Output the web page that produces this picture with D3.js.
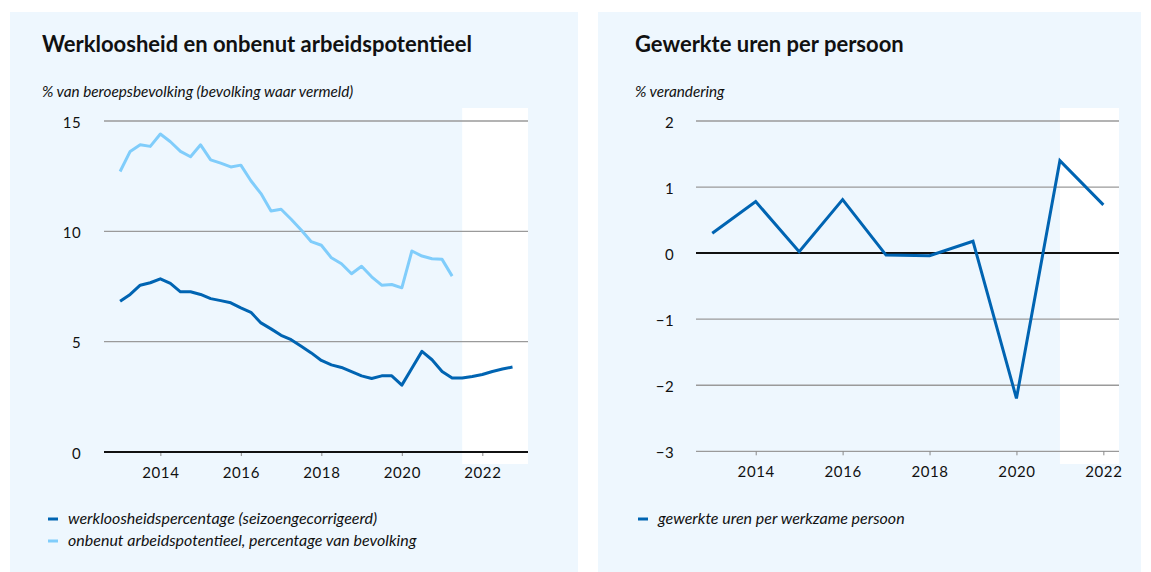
<!DOCTYPE html>
<html>
<head>
<meta charset="utf-8">
<script src="https://cdn.jsdelivr.net/npm/d3@7"></script>
<style>
  body { margin: 0; background: #fff; }
  text { font-family: Lato, "Open Sans", sans-serif; fill: #111; }
  .axis .domain { display: none; }
</style>
</head>
<body>
<div id="chart"></div>
<script>
// ---- data ----
// quarterly, starting 2013 Q1
var werkloosheid = [6.83, 7.14, 7.56, 7.67, 7.85, 7.64, 7.26, 7.26, 7.14, 6.95,
    6.86, 6.76, 6.53, 6.33, 5.85, 5.58, 5.29, 5.09, 4.79, 4.49,
    4.15, 3.95, 3.83, 3.64, 3.45, 3.33, 3.45, 3.45, 3.03, 3.80,
    4.56, 4.18, 3.65, 3.35, 3.35, 3.42, 3.51, 3.65, 3.76, 3.85];
var onbenut = [12.71, 13.62, 13.92, 13.85, 14.41, 14.06, 13.62, 13.38, 13.92, 13.24,
    13.09, 12.92, 13.0, 12.29, 11.71, 10.92, 11.0, 10.55, 10.06, 9.53,
    9.37, 8.80, 8.53, 8.08, 8.42, 7.94, 7.56, 7.59, 7.44, 9.11,
    8.88, 8.76, 8.73, 7.97];
var startYear = 2013;

// yearly
var urenYears = [2013, 2014, 2015, 2016, 2017, 2018, 2019, 2020, 2021, 2022];
var urenPerPersoon = [0.30, 0.78, 0.02, 0.81, -0.03, -0.04, 0.18, -2.20, 1.40, 0.73];

var leftYTicks = [0, 5, 10, 15];
var rightYTicks = [-3, -2, -1, 0, 1, 2];
var xTickYears = [2014, 2016, 2018, 2020, 2022];

var darkBlue = "#0064b2";
var lightBlue = "#80cdfb";
var panelColor = "#eef7fe";

var width = 1151, height = 572;

var svg = d3.select("#chart")
    .append("svg")
    .attr("width", width)
    .attr("height", height);

// panel backgrounds
svg.append("rect").attr("x", 10).attr("y", 12).attr("width", 568).attr("height", 560).attr("fill", panelColor);
svg.append("rect").attr("x", 598).attr("y", 12).attr("width", 543).attr("height", 560).attr("fill", panelColor);

function quarterDate(i) { return startYear + i / 4; }

// draws grid, band, axes for one panel
function drawFrame(g, xScale, yScale, yTicks, bandStart, xLeft, xRight, labelX, fmt) {
    // white forecast band
    g.append("rect")
        .attr("x", xScale(bandStart))
        .attr("y", 108)
        .attr("width", xRight - xScale(bandStart))
        .attr("height", 356)
        .attr("fill", "#fff");

    // gridlines
    g.selectAll(".grid")
        .data(yTicks.filter(function (d) { return d !== 0; }))
        .enter()
        .append("line")
        .attr("x1", xLeft).attr("x2", xRight)
        .attr("y1", function (d) { return yScale(d); })
        .attr("y2", function (d) { return yScale(d); })
        .attr("stroke", "#9a9a9a")
        .attr("stroke-width", 1.3);

    // y labels
    var yAxis = d3.axisLeft(yScale)
        .tickValues(yTicks)
        .tickSize(0)
        .tickPadding(0)
        .tickFormat(fmt);
    g.append("g")
        .attr("class", "axis")
        .attr("transform", "translate(" + labelX + ",0)")
        .call(yAxis)
        .selectAll("text")
        .style("font-size", "15px")
        .style("letter-spacing", "0.4px")
        .attr("dy", "0.4em")
        .attr("fill", "#111");

    // x axis ticks and labels on bottom line
    var xAxis = d3.axisBottom(xScale)
        .tickValues(xTickYears)
        .tickSize(4)
        .tickPadding(11)
        .tickFormat(d3.format("d"));
    var xg = g.append("g")
        .attr("class", "axis")
        .attr("transform", "translate(0," + yScale(yTicks[0]) + ")")
        .call(xAxis);
    xg.selectAll("line").attr("stroke", "#888");
    xg.selectAll("text")
        .style("font-size", "15px")
        .style("letter-spacing", "0.6px")
        .attr("fill", "#111");
}

function zeroLine(g, yScale, xLeft, xRight) {
    g.append("line")
        .attr("x1", xLeft).attr("x2", xRight)
        .attr("y1", yScale(0)).attr("y2", yScale(0))
        .attr("stroke", "#111")
        .attr("stroke-width", 2);
}

function titles(g, x, title, sub) {
    g.append("text").attr("x", x).attr("y", 52)
        .style("font-size", "22px").style("font-weight", "bold")
        .text(title);
    g.append("text").attr("x", x).attr("y", 97)
        .style("font-size", "15.3px").style("font-style", "italic")
        .text(sub);
}

function legendItem(g, x, y, color, label) {
    g.append("line")
        .attr("x1", x).attr("x2", x + 10)
        .attr("y1", y - 5).attr("y2", y - 5)
        .attr("stroke", color).attr("stroke-width", 3);
    g.append("text").attr("x", x + 20).attr("y", y)
        .style("font-size", "16px").style("font-style", "italic")
        .text(label);
}

var fmtNum = function (d) { return d < 0 ? "\u2212" + Math.abs(d) : d; };

// ---- left chart ----
var left = svg.append("g");
var xL = d3.scaleLinear().domain([2012.6, 2023.135]).range([104, 528]);
var yL = d3.scaleLinear().domain([0, 15]).range([452, 121]);

titles(left, 42, "Werkloosheid en onbenut arbeidspotentieel", "% van beroepsbevolking (bevolking waar vermeld)");
drawFrame(left, xL, yL, leftYTicks, 2021.5, 104, 528, 81, fmtNum);

var lineL = d3.line()
    .x(function (d, i) { return xL(quarterDate(i)); })
    .y(function (d) { return yL(d); });

left.append("path").datum(onbenut)
    .attr("d", lineL).attr("fill", "none")
    .attr("stroke", lightBlue).attr("stroke-width", 3)
    .attr("stroke-linejoin", "round");
left.append("path").datum(werkloosheid)
    .attr("d", lineL).attr("fill", "none")
    .attr("stroke", darkBlue).attr("stroke-width", 3)
    .attr("stroke-linejoin", "round");
zeroLine(left, yL, 104, 528);

legendItem(left, 48, 524, darkBlue, "werkloosheidspercentage (seizoengecorrigeerd)");
legendItem(left, 48, 546, lightBlue, "onbenut arbeidspotentieel, percentage van bevolking");

// ---- right chart ----
var right = svg.append("g");
var xR = d3.scaleLinear().domain([2012.626, 2022.36]).range([696, 1119]);
var yR = d3.scaleLinear().domain([-3, 2]).range([451.3, 121]);

titles(right, 635, "Gewerkte uren per persoon", "% verandering");
drawFrame(right, xR, yR, rightYTicks, 2021, 696, 1119, 674, fmtNum);
zeroLine(right, yR, 696, 1119);

var lineR = d3.line()
    .x(function (d, i) { return xR(urenYears[i]); })
    .y(function (d) { return yR(d); });

right.append("path").datum(urenPerPersoon)
    .attr("d", lineR).attr("fill", "none")
    .attr("stroke", darkBlue).attr("stroke-width", 3)
    .attr("stroke-linejoin", "miter");

legendItem(right, 638, 524, darkBlue, "gewerkte uren per werkzame persoon");
</script>
</body>
</html>
